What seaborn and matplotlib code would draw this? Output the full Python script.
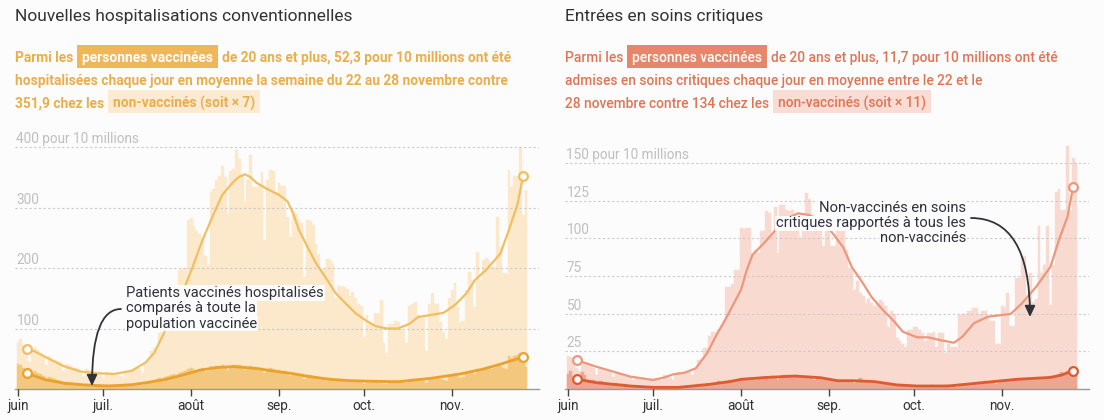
import numpy as np
import pandas as pd
import matplotlib
matplotlib.use('Agg')
import matplotlib.pyplot as plt
import seaborn as sns
from matplotlib.patches import Rectangle

# ---------------- DATA ----------------
days = list(range(180))  # days since 1 June 2021
month_ticks = [0, 30, 61, 92, 122, 153]
month_labels = ['juin', 'juil.', 'août', 'sep.', 'oct.', 'nov.']

hosp_nonvax = [
    78, 82, 72, 64, 44, 62, 70,
    64, 60, 56, 40, 54, 50, 48,
    46, 44, 30, 42, 40, 37, 35,
    34, 30, 22, 33, 31, 29, 27,
    27, 26, 19, 28, 27, 26, 24,
    25, 22, 18, 30, 29, 31, 33,
    36, 34, 26, 42, 50, 62, 68,
    70, 92, 94, 90, 118, 120, 122,
    118, 196, 198, 200, 280, 282, 270,
    262, 256, 252, 220, 205, 326, 330,
    345, 352, 368, 350, 290, 360, 364,
    395, 380, 352, 309, 346, 387, 334,
    334, 336, 359, 246, 346, 362, 360,
    326, 341, 336, 336, 284, 251, 295,
    290, 280, 275, 185, 280, 278, 271,
    240, 223, 198, 198, 215, 213, 207,
    150, 170, 170, 168, 165, 154, 160,
    150, 140, 138, 86, 122, 110, 106,
    125, 124, 147, 76, 60, 107, 107,
    113, 110, 100, 96, 76, 138, 140,
    144, 122, 118, 117, 62, 141, 158,
    141, 141, 110, 94, 83, 150, 164,
    175, 136, 110, 112, 164, 194, 180,
    136, 227, 180, 213, 216, 214, 202,
    202, 285, 235, 191, 190, 362, 334,
    352, 352, 400, 288, 329]

hosp_vax = [
    42, 40, 35, 30, 22, 28, 30,
    26, 24, 22, 14, 20, 18, 16,
    15, 14, 9, 12, 12, 11, 10,
    10, 9, 6, 9, 8, 8, 7,
    7, 7, 5, 7, 7, 7, 6,
    7, 6, 5, 8, 8, 9, 9,
    10, 10, 7, 12, 13, 14, 15,
    16, 18, 14, 20, 22, 23, 24,
    22, 26, 28, 30, 33, 34, 32,
    32, 33, 34, 28, 30, 38, 37,
    38, 38, 39, 37, 30, 38, 39,
    40, 39, 37, 32, 36, 38, 34,
    33, 33, 35, 26, 32, 34, 33,
    30, 31, 30, 29, 25, 22, 27,
    26, 25, 24, 17, 23, 23, 22,
    20, 19, 18, 18, 18, 18, 17,
    13, 15, 15, 15, 14, 14, 14,
    13, 13, 13, 9, 12, 12, 12,
    13, 13, 14, 9, 8, 12, 12,
    13, 13, 12, 12, 10, 15, 16,
    17, 16, 16, 16, 10, 18, 19,
    19, 19, 17, 15, 14, 21, 22,
    24, 22, 19, 20, 26, 29, 28,
    24, 33, 30, 33, 34, 35, 33,
    34, 42, 38, 34, 33, 54, 52,
    55, 56, 60, 45, 37]

crit_nonvax = [
    22, 21, 18, 14, 12, 17, 18,
    17, 16, 14, 9, 13, 13, 12,
    12, 11, 8, 11, 10, 9, 9,
    8, 8, 6, 8, 7, 7, 7,
    6, 6, 5, 7, 6, 6, 9,
    8, 7, 6, 10, 11, 10, 11,
    12, 11, 9, 13, 19, 20, 27,
    27, 35, 38, 38, 40, 42, 45,
    68, 68, 70, 79, 79, 107, 106,
    107, 107, 90, 92, 90, 105, 105,
    118, 117, 102, 121, 90, 122, 122,
    119, 118, 119, 112, 112, 100, 105,
    130, 126, 106, 106, 106, 106, 95,
    106, 106, 95, 95, 106, 106, 106,
    92, 80, 80, 66, 72, 64, 62,
    57, 60, 57, 55, 56, 59, 58,
    55, 41, 52, 50, 34, 32, 30,
    28, 39, 39, 41, 41, 39, 37,
    32, 37, 37, 38, 28, 37, 37,
    24, 30, 28, 28, 28, 49, 50,
    50, 52, 52, 54, 54, 50, 52,
    52, 48, 45, 45, 30, 30, 55,
    54, 64, 42, 42, 74, 74, 88,
    88, 59, 77, 58, 60, 108, 77,
    82, 108, 56, 82, 131, 133, 119,
    119, 161, 119, 153, 150]

crit_vax = [
    10, 12, 8, 7, 6, 11, 9,
    6, 5, 6, 4, 5, 5, 4,
    4, 3, 3, 4, 3, 3, 3,
    2, 2, 2, 2, 2, 1.5, 1.5,
    1.5, 1, 1, 1, 1, 1.5, 1,
    1, 1, 1, 1.5, 1.5, 2, 1.5,
    2, 2, 1.5, 2.5, 3, 3, 3.5,
    4, 3.5, 3, 4, 5, 4.5, 5,
    5, 6, 6, 5.5, 6.5, 7, 6,
    7, 7, 6.5, 6, 7, 8, 8,
    8, 7.5, 8.5, 7, 6, 8, 9,
    9, 9, 8.5, 8, 9, 8, 7.5,
    8, 7, 8, 6, 7.5, 7, 7,
    6, 6.5, 6, 6, 5, 4.5, 5.5,
    6, 5.5, 5, 4, 5, 7, 5,
    4.5, 4.5, 4, 4, 4, 3.5, 3.5,
    3, 3, 3, 2.5, 2.5, 2, 2,
    2, 2, 2, 1.5, 2, 2, 2,
    2, 2, 2.5, 1.5, 1.5, 2, 2,
    2.5, 2.5, 2, 2, 1.5, 3, 3.5,
    3.5, 3.5, 3.5, 4, 3, 4.5, 4.5,
    5, 4.5, 4, 4, 3.5, 5.5, 6,
    6, 5.5, 5, 5.5, 6.5, 7, 6.5,
    6, 7, 7.5, 7, 7, 8, 7.5,
    7, 8, 8.5, 7.5, 8, 10, 11,
    10, 12, 13, 11, 12]

# smoothed curves (day, value)
hosp_nonvax_line_days = [3, 6, 10, 16, 22, 28, 34, 40, 45, 48, 51, 55, 58, 61, 65, 69, 72, 76, 78, 80,
                         82, 84, 88, 92, 95, 97, 99, 102, 105, 109, 112, 116, 119, 123, 126, 130, 134,
                         138, 141, 145, 150, 154, 158, 161, 165, 170, 173, 176, 178]
hosp_nonvax_line_vals = [66, 62, 52, 38, 29, 26, 25, 30, 44, 60, 88, 125, 160, 195, 246, 290, 321, 343, 351, 355,
                         350, 341, 330, 321, 310, 290, 263, 235, 208, 180, 158, 139, 125, 112, 104, 100, 100,
                         108, 119, 122, 126, 139, 158, 180, 197, 224, 263, 305, 352]
hosp_vax_line_days = [3, 10, 17, 24, 32, 40, 46, 52, 58, 64, 70, 76, 84, 91, 96, 103, 110, 117, 123,
                      134, 146, 156, 164, 170, 174, 178]
hosp_vax_line_vals = [26, 15, 9, 6.5, 5, 7, 11, 16, 23, 31, 35.5, 37, 34, 29, 26, 20.4, 16, 13.8, 13,
                      12, 18, 25, 33, 41, 47, 52.3]

crit_nonvax_line_days = [3, 10, 16, 22, 30, 34, 37, 41, 45, 49, 52, 56, 61, 63, 65, 69, 72, 76, 81, 85,
                         90, 93, 97, 100, 104, 107, 111, 115, 118, 123, 127, 131, 136, 139, 143, 148,
                         156, 160, 165, 170, 173, 176, 178]
crit_nonvax_line_vals = [19.2, 14.8, 11.5, 8.2, 6, 7.7, 9.7, 10.8, 13.7, 23.7, 34.7, 48, 66, 79, 89, 96.7,
                         103, 112, 116.6, 115.5, 111, 104, 94, 81, 70, 61, 52.4, 44.7, 38, 34.3, 34.3,
                         32.5, 30.7, 34.7, 43.6, 48, 49.8, 56.9, 67.9, 81, 98.9, 114.3, 134.2]
crit_vax_line_days = [3, 10, 22, 30, 39, 49, 57, 61, 70, 80, 89, 95, 101, 108, 116, 123, 134, 146,
                      158, 170, 174, 178]
crit_vax_line_vals = [6.6, 4.2, 2, 1.1, 1.1, 2.9, 4.9, 6.4, 7.7, 8.6, 7.5, 5.5, 5.5, 4.9, 2.7, 2, 2,
                      4.2, 6.4, 7.7, 9.3, 12.2]

hosp_yticks = [100, 200, 300, 400]
hosp_ylabels = ['100', '200', '300', '400 pour 10 millions']
crit_yticks = [25, 50, 75, 100, 125, 150]
crit_ylabels = ['25', '50', '75', '100', '125', '150 pour 10 millions']

# ---------------- STYLE ----------------
sns.set_theme(style='white')
plt.rcParams['font.family'] = ['Roboto', 'DejaVu Sans']

W, H = 1104, 420
BG = '#fcfcfd'
fig = plt.figure(figsize=(W / 100, H / 100), dpi=100)
fig.patch.set_facecolor(BG)
R = fig.canvas.get_renderer()


def fx(x):
    return x / W


def fy(y):
    return 1 - y / H


def tw(t):
    return t.get_window_extent(R).width


def fit(s, target, weight='normal'):
    t = fig.text(0, 0, s, fontsize=10, weight=weight)
    w = tw(t)
    t.remove()
    return 10 * target / w


tick_size = fit('août', 27)
lab_size = fit('400 pour 10 millions', 123)
note_size = (fit('Patients vaccinés hospitalisés', 197) + fit('critiques rapportés à tous les', 191)) / 2
title_size = (fit('Nouvelles hospitalisations conventionnelles', 340) +
              fit('Entrées en soins critiques', 199)) / 2

LEFT_COL = dict(nvbar='#fce8cb', vbar='#f4c77f', nvline='#f0bf62', vline='#e9a22c',
                text='#eaae4b', strong='#efb65a', soft='#fcebd2')
RIGHT_COL = dict(nvbar='#f8dad1', vbar='#eca692', nvline='#eb987d', vline='#de5a31',
                 text='#df7555', strong='#e6866a', soft='#f9ddd5')

XLIM = (-1.06, 183.6)


def panel(left_px, nv, v, nvd, nvv, vd, vv, col, ymax, yticks, ylabels):
    ax = fig.add_axes([left_px / W, 31 / H, 524 / W, 248 / H])
    ax.set_facecolor('none')
    sns.histplot(x=days, weights=nv, discrete=True, color=col['nvbar'], alpha=1,
                 linewidth=0.3, edgecolor=col['nvbar'], ax=ax, zorder=1)
    sns.histplot(x=days, weights=v, discrete=True, color=col['vbar'], alpha=1,
                 linewidth=0.3, edgecolor=col['vbar'], ax=ax, zorder=2)
    sns.lineplot(x=nvd, y=nvv, color=col['nvline'], linewidth=1.6, ax=ax, zorder=4)
    sns.lineplot(x=vd, y=vv, color=col['vline'], linewidth=2.0, ax=ax, zorder=4)
    for d, val, c in [(nvd, nvv, col['nvline']), (vd, vv, col['vline'])]:
        ax.plot([d[0], d[-1]], [val[0], val[-1]], 'o', mfc=BG, mec=c, ms=6.3, mew=1.6,
                zorder=5, clip_on=False)
    ax.set_xlim(*XLIM)
    ax.set_ylim(0, ymax)
    ax.set_xlabel('')
    ax.set_ylabel('')
    ax.set_yticks(yticks)
    ax.tick_params(axis='y', left=False, labelleft=False)
    ax.yaxis.grid(True, color='#cacaca', linestyle=(0, (2, 2.2)), linewidth=0.8)
    ax.xaxis.grid(False)
    ax.set_axisbelow(False)
    for s in ['top', 'right', 'left']:
        ax.spines[s].set_visible(False)
    ax.spines['bottom'].set_color('#9a9a9a')
    ax.spines['bottom'].set_linewidth(1)
    ax.set_xticks(month_ticks, month_labels)
    ax.tick_params(axis='x', bottom=True, length=5, width=1, color='#444444',
                   labelcolor='#333333', labelsize=tick_size, pad=2.5, direction='out')
    for yv, lbl in zip(yticks, ylabels):
        ax.annotate(lbl, xy=(0, yv), xycoords=('axes fraction', 'data'), xytext=(1.5, 4),
                    textcoords='offset pixels', ha='left', va='baseline', color='#bfbfbf',
                    fontsize=lab_size, zorder=3)
    return ax


axL = panel(15, hosp_nonvax, hosp_vax, hosp_nonvax_line_days, hosp_nonvax_line_vals,
            hosp_vax_line_days, hosp_vax_line_vals, LEFT_COL, 410, hosp_yticks, hosp_ylabels)
axR = panel(565, crit_nonvax, crit_vax, crit_nonvax_line_days, crit_nonvax_line_vals,
            crit_vax_line_days, crit_vax_line_vals, RIGHT_COL, 164.6, crit_yticks, crit_ylabels)

# ---------------- TITLES ----------------
fig.text(fx(15), fy(21), 'Nouvelles hospitalisations conventionnelles', fontsize=title_size,
         color='#333333', va='baseline', ha='left')
fig.text(fx(565), fy(21), 'Entrées en soins critiques', fontsize=title_size,
         color='#333333', va='baseline', ha='left')

PAD, GAP = 5, 4


def sub_size(runs, target, weight):
    total = 0
    fixed = 0
    for kind, s in runs:
        t = fig.text(0, 0, s, fontsize=10, weight=weight)
        total += tw(t)
        t.remove()
        fixed += GAP + (2 * PAD if kind != 'p' else 0)
    fixed -= GAP
    return 10 * (target - fixed) / total


def rich_line(x0, base, runs, size, weight, col):
    x = x0
    for kind, s in runs:
        if kind == 'p':
            t = fig.text(fx(x), fy(base), s, fontsize=size, weight=weight, color=col['text'],
                         va='baseline', ha='left')
            x += tw(t) + GAP
        else:
            fill = col['strong'] if kind == 's' else col['soft']
            tc = 'white' if kind == 's' else col['text']
            x += PAD
            t = fig.text(fx(x), fy(base), s, fontsize=size, weight=weight, color=tc,
                         va='baseline', ha='left', zorder=3)
            w = tw(t)
            fig.add_artist(Rectangle((fx(x - PAD), fy(base + 6)), (w + 2 * PAD) / W, 23 / H,
                                     transform=fig.transFigure, facecolor=fill,
                                     edgecolor='none', zorder=2))
            x += w + PAD + GAP


left_sub = [
    [('p', 'Parmi les'), ('s', 'personnes vaccinées'),
     ('p', 'de 20 ans et plus, 52,3 pour 10 millions ont été')],
    [('p', 'hospitalisées chaque jour en moyenne la semaine du 22 au 28 novembre contre')],
    [('p', '351,9 chez les'), ('w', 'non-vaccinés (soit × 7)')],
]
right_sub = [
    [('p', 'Parmi les'), ('s', 'personnes vaccinées'),
     ('p', 'de 20 ans et plus, 11,7 pour 10 millions ont été')],
    [('p', 'admises en soins critiques chaque jour en moyenne entre le 22 et le')],
    [('p', '28 novembre contre 134 chez les'), ('w', 'non-vaccinés (soit × 11)')],
]
bases = [62, 85, 107.5]
sL = sub_size(left_sub[0], 497, 'bold')
for runs, b in zip(left_sub, bases):
    rich_line(15, b, runs, sL, 'bold', LEFT_COL)
sR = sub_size(right_sub[0], 490, 'medium')
for runs, b in zip(right_sub, bases):
    rich_line(565, b, runs, sR, 'medium', RIGHT_COL)

# ---------------- ANNOTATIONS ----------------
note_col = '#2f323a'
left_note = ['Patients vaccinés hospitalisés', 'comparés à toute la', 'population vaccinée']
for i, s in enumerate(left_note):
    fig.text(fx(126), fy(297 + 15.3 * i), s, fontsize=note_size, color=note_col, ha='left',
             va='baseline', zorder=6,
             bbox=dict(facecolor=BG, edgecolor='none', pad=0.6))
right_note = ['Non-vaccinés en soins', 'critiques rapportés à tous les', 'non-vaccinés']
for i, s in enumerate(right_note):
    fig.text(fx(966), fy(212.5 + 15 * i), s, fontsize=note_size, color=note_col, ha='right',
             va='baseline', zorder=6,
             bbox=dict(facecolor=BG, edgecolor='none', pad=0.6))

arrow_kw = dict(arrowstyle='-|>,head_length=0.6,head_width=0.28', color=note_col, lw=1.3,
                shrinkA=0, shrinkB=0, mutation_scale=11)
fig.add_artist(matplotlib.text.Annotation(
    '', xy=(92, H - 386), xycoords='figure pixels', xytext=(121, H - 309),
    textcoords='figure pixels',
    arrowprops=dict(connectionstyle='angle3,angleA=180,angleB=90', **arrow_kw)))
fig.add_artist(matplotlib.text.Annotation(
    '', xy=(1030, H - 317), xycoords='figure pixels', xytext=(971, H - 218),
    textcoords='figure pixels',
    arrowprops=dict(connectionstyle='angle3,angleA=0,angleB=90', **arrow_kw)))

fig.savefig('out.png', dpi=100, facecolor=BG)
